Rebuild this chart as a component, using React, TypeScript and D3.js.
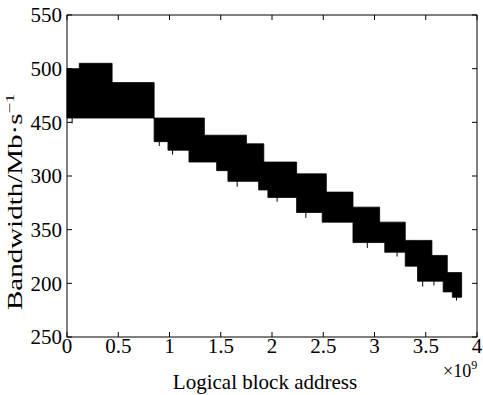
import * as d3 from 'd3';

// block breakpoints (x in 1e9), upper / lower bandwidth envelope
const xBreaks = [0, 0.12, 0.44, 0.85, 0.985, 1.19, 1.34, 1.46, 1.57, 1.75, 1.87, 1.92, 1.96, 2.24, 2.49, 2.53, 2.79, 3.05, 3.10, 3.30, 3.42, 3.56, 3.67, 3.71, 3.76, 3.85];
const upper = [500, 505, 487, 454, 454, 454, 438, 438, 438, 430, 430, 413, 413, 402, 402, 385, 371, 357, 357, 340, 340, 326, 326, 310, 310, 310];
const lower = [454, 454, 454, 432, 424, 413, 413, 405, 395, 395, 387, 387, 380, 366, 357, 357, 338, 338, 329, 316, 302, 302, 292, 292, 287, 287];

// a few visible noise spikes below the band (x in 1e9, min value)
const spikeX = [0.05, 0.9, 1.03, 1.66, 2.05, 2.33, 2.93, 3.22, 3.47, 3.58, 3.8];
const spikeLo = [449, 428, 420, 390, 376, 361, 333, 325, 297, 298, 284];

const xTicks = [0, 0.5, 1, 1.5, 2, 2.5, 3, 3.5, 4];
const xTickLabels = ['0', '0.5', '1', '1.5', '2', '2.5', '3', '3.5', '4'];
const yTicks = [550, 500, 450, 400, 350, 300, 250];
const yTickLabels = ['550', '500', '450', '300', '350', '200', '250'];

const W = 483;
const H = 395;
const m = { left: 67, right: 477, top: 15, bottom: 337 };
const font = '"Liberation Serif", "Times New Roman", serif';

export default function App() {
  const x = d3.scaleLinear().domain([0, 4]).range([m.left, m.right]);
  const y = d3.scaleLinear().domain([250, 550]).range([m.bottom, m.top]);

  const pts = xBreaks.map((v, i) => ({ x: v, hi: upper[i], lo: lower[i] }));
  const area = d3.area<{ x: number; hi: number; lo: number }>()
    .x(d => x(d.x))
    .y0(d => y(d.lo))
    .y1(d => y(d.hi))
    .curve(d3.curveStepAfter);

  // band lower value at a given x, for spikes
  const bis = d3.bisector((d: number) => d).right;
  const loAt = (v: number) => lower[Math.max(0, bis(xBreaks, v) - 1)];

  const tl = 5;

  return (
    <svg width={W} height={H} style={{ position: 'absolute', left: 0, top: 0, background: '#fff' }}
      fontFamily={font}>
      <path d={area(pts) || ''} fill="#000" stroke="#000" strokeWidth={0.8} />
      {spikeX.map((s, i) => (
        <line key={'s' + i} x1={x(s)} x2={x(s)} y1={y(loAt(s))} y2={y(spikeLo[i])} stroke="#000" strokeWidth={1} />
      ))}
      <rect x={m.left} y={m.top} width={m.right - m.left} height={m.bottom - m.top}
        fill="none" stroke="#000" strokeWidth={1} />
      {xTicks.map((t, i) => (
        <g key={'x' + i}>
          <line x1={x(t)} x2={x(t)} y1={m.bottom} y2={m.bottom - tl} stroke="#000" />
          <line x1={x(t)} x2={x(t)} y1={m.top} y2={m.top + tl} stroke="#000" />
          <text x={x(t)} y={353} fontSize={21} textAnchor="middle">{xTickLabels[i]}</text>
        </g>
      ))}
      {yTicks.map((t, i) => (
        <g key={'y' + i}>
          <line x1={m.left} x2={m.left + tl} y1={y(t)} y2={y(t)} stroke="#000" />
          <line x1={m.right} x2={m.right - tl} y1={y(t)} y2={y(t)} stroke="#000" />
          <text x={62} y={y(t)} dy="0.35em" fontSize={21} textAnchor="end">{yTickLabels[i]}</text>
        </g>
      ))}
      <text x={265} y={389} fontSize={21} textAnchor="middle">Logical block address</text>
      <text x={443} y={377} fontSize={18}>
        ×10<tspan fontSize={12} dy={-8}>9</tspan>
      </text>
      <text transform="translate(22,310) rotate(-90) scale(1.45,1)" fontSize={20} textAnchor="start">
        Bandwidth/Mb·s<tspan fontSize={13} dy={-8}>−1</tspan>
      </text>
    </svg>
  );
}
